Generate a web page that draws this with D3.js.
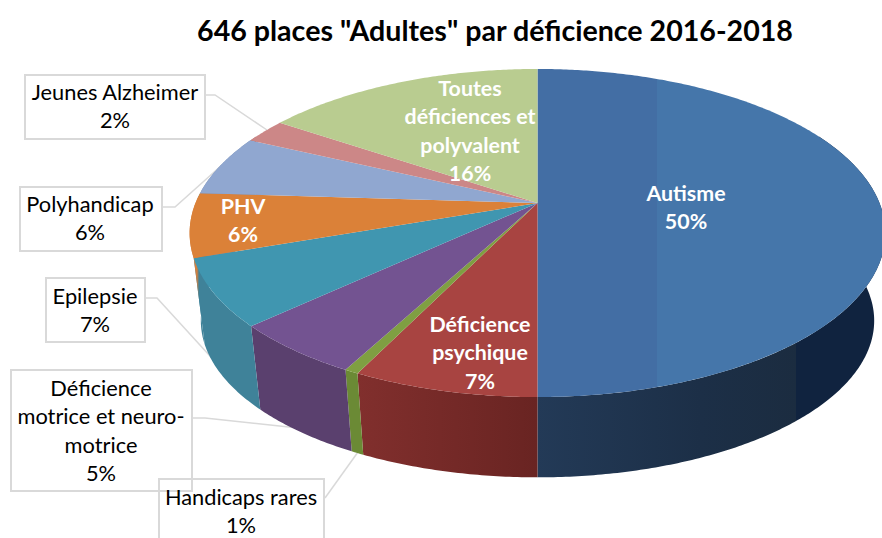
<!DOCTYPE html>
<html lang="fr">
<head>
<meta charset="utf-8">
<script src="https://cdn.jsdelivr.net/npm/d3@7"></script>
<style>
html,body{margin:0;padding:0;background:#fff;overflow:hidden}
svg{display:block}
text{font-family:Lato,"Open Sans",sans-serif}
</style>
</head>
<body>
<svg id="chart" width="882" height="538"></svg>
<script>
const chartTitle = '646 places "Adultes" par déficience 2016-2018';
const categories = ["Autisme","Déficience psychique","Handicaps rares","Déficience motrice et neuro-motrice","Epilepsie","PHV","Polyhandicap","Jeunes Alzheimer","Toutes déficiences et polyvalent"];
const values = [50,7.25,0.55,5.3,6.6,6.3,6.0,2.4,15.6];
const labelLines = [["Autisme"],["Déficience","psychique"],["Handicaps rares"],["Déficience","motrice et neuro-","motrice"],["Epilepsie"],["PHV"],["Polyhandicap"],["Jeunes Alzheimer"],["Toutes","déficiences et","polyvalent"]];
const topColors = ["url(#autTop)","#a84441","#7f9f42","#735391","#4096b0","#db8138","#90a7d0","#cc8787","#b9cc90"];
const wallColors = ["url(#autWall)","url(#redWall)","#6b8a35","#5a406e","#3f8299","url(#phvWall)","#7c90b4","#a87070","#9db07a"];

const layout = [
  {cx:686, y:194, white:true},
  {cx:480, y:325, white:true},
  {cx:241, y:498, box:[159,479,165,70], leader:[[325,498],[358,452]]},
  {cx:101, y:389, box:[11,370,181,121], leader:[[192,418],[205,418],[298,428]]},
  {cx:95,  y:297, box:[46,278,99,64],  leader:[[145,298],[157,298],[220,367]]},
  {cx:243, y:207, white:true},
  {cx:90,  y:205, box:[20,187,142,64], leader:[[162,207],[175,207],[222,165]]},
  {cx:115, y:93,  box:[25,75,180,64],  leader:[[205,95],[215,95],[267,130]]},
  {cx:470, y:89,  white:true}
];

const topProj = {cx:537.5, y0:203, a:121.4, b:342, k:0.183};
const botProj = {cx:537.5, y0:292, a:98, b:331, k:0.183};
function project(p, ang){
  const x = Math.sin(ang), y = Math.cos(ang), w = 1 + p.k*y;
  return [p.cx + p.b*x/w, (p.y0 - p.a*y)/w];
}
function samples(a0,a1){
  const n = Math.max(2, Math.ceil((a1-a0)/0.01));
  return d3.range(n+1).map(i => a0 + (a1-a0)*i/n);
}

const svg = d3.select("#chart");
const defs = svg.append("defs");
function hGrad(id, stops){
  const g = defs.append("linearGradient").attr("id",id).attr("gradientUnits","userSpaceOnUse")
    .attr("x1",0).attr("x2",882).attr("y1",0).attr("y2",0);
  stops.forEach(([x,c]) => g.append("stop").attr("offset",x/882).attr("stop-color",c));
}
hGrad("autTop",[[657,"#436ea4"],[657,"#4576aa"]]);
hGrad("autWall",[[537,"#233a57"],[700,"#1c2f47"],[796,"#1b2c40"],[796,"#10233f"]]);
hGrad("redWall",[[358,"#812f2d"],[537,"#692422"]]);
hGrad("phvWall",[[197,"#d08040"],[199,"#3f8299"]]);

const arcs = d3.pie().sort(null).value(d=>d).startAngle(0).endAngle(2*Math.PI)(values);
const line = d3.line();

// leader lines (behind the pie)
svg.append("g").selectAll("path").data(layout.filter(l=>l.leader)).join("path")
  .attr("d",l=>line(l.leader)).attr("fill","none").attr("stroke","#d9d9d9").attr("stroke-width",1.5);

// side walls (front half only, the top face hides the rest)
const frontA = 1.1, frontB = 2*Math.PI - 1.1;
svg.append("g").selectAll("path").data(arcs).join("path")
  .attr("d", d => {
    const a0 = Math.max(d.startAngle, frontA), a1 = Math.min(d.endAngle, frontB);
    if (a1 <= a0) return null;
    const s = samples(a0,a1);
    return line(s.map(a=>project(topProj,a)).concat(s.slice().reverse().map(a=>project(botProj,a)))) + "Z";
  })
  .attr("fill",(d,i)=>wallColors[i]);

// top faces
svg.append("g").selectAll("path").data(arcs).join("path")
  .attr("d", d => line([[topProj.cx,topProj.y0]].concat(samples(d.startAngle,d.endAngle).map(a=>project(topProj,a)))) + "Z")
  .attr("fill",(d,i)=>topColors[i]);

// title
svg.append("text").attr("x",495).attr("y",41).attr("text-anchor","middle")
  .attr("font-size",28.6).attr("font-weight",700).attr("fill","#000").text(chartTitle);

// label boxes
svg.append("g").selectAll("rect").data(layout.filter(l=>l.box)).join("rect")
  .attr("x",l=>l.box[0]).attr("y",l=>l.box[1]).attr("width",l=>l.box[2]).attr("height",l=>l.box[3])
  .attr("fill","none").attr("stroke","#d9d9d9").attr("stroke-width",2);

// labels
const fmt = d3.format(".0%");
const gl = svg.append("g");
layout.forEach((l,i)=>{
  const lines = labelLines[i].concat(fmt(values[i]/100));
  const t = gl.append("text").attr("text-anchor","middle").attr("font-size",l.white?21.4:21.8)
    .attr("font-weight",l.white?700:400).attr("fill",l.white?"#fff":"#000");
  lines.forEach((s,j)=>t.append("tspan").attr("x",l.cx).attr("y",l.y+7+j*28.4).text(s));
});
</script>
</body>
</html>
